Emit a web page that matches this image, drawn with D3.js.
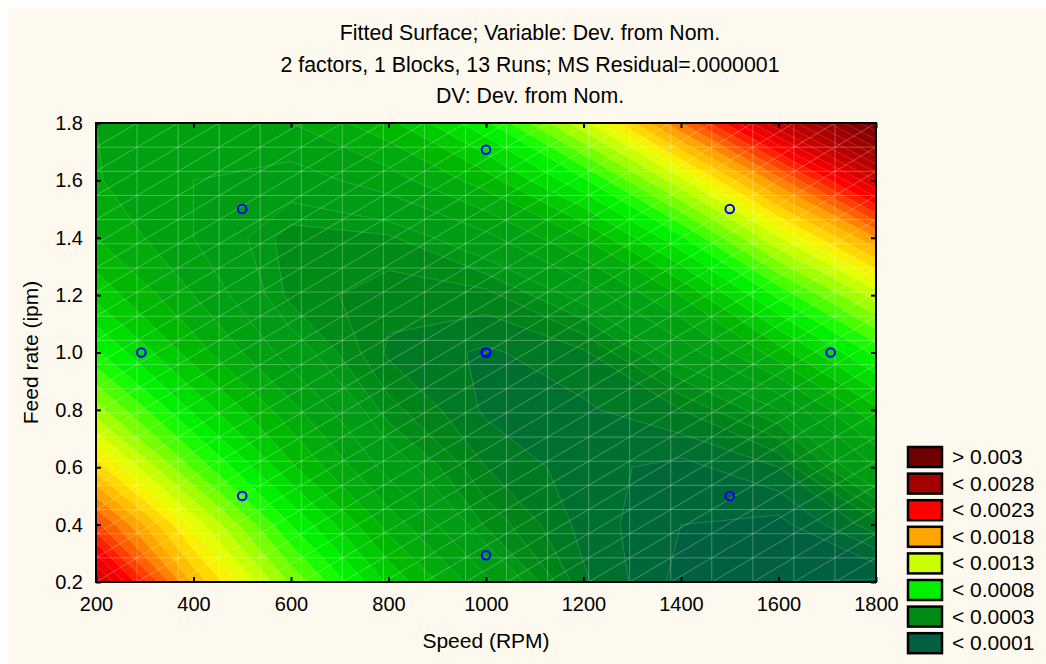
<!DOCTYPE html>
<html>
<head>
<meta charset="utf-8">
<script src="https://cdn.jsdelivr.net/npm/d3@7"></script>
<style>
  body { margin: 0; background: #ffffff; }
  text { font-family: "Liberation Sans", Arial, sans-serif; fill: #000; }
</style>
</head>
<body>
<div id="chart"></div>
<script>
var svgWidth = 1046;
var svgHeight = 664;

var margin = { top: 123, left: 96 };
var width = 780;
var height = 459;

// titles
var titleLines = [
  "Fitted Surface; Variable: Dev. from Nom.",
  "2 factors, 1 Blocks, 13 Runs; MS Residual=.0000001",
  "DV: Dev. from Nom."
];
var xLabel = "Speed (RPM)";
var yLabel = "Feed rate (ipm)";

// tick values
var xTicks = [200, 400, 600, 800, 1000, 1200, 1400, 1600, 1800];
var yTicks = [0.2, 0.4, 0.6, 0.8, 1.0, 1.2, 1.4, 1.6, 1.8];

// fitted surface, one row per feed rate (top row first)
var gridSpeed = [200, 400, 600, 800, 1000, 1200, 1400, 1600, 1800];
var gridFeed = [1.8, 1.6, 1.4, 1.2, 1.0, 0.8, 0.6, 0.4, 0.2];
var devGrid = [
  [0.000300, 0.000260, 0.000300, 0.000470, 0.000780, 0.001270, 0.001900, 0.002580, 0.003200], // 1.8
  [0.000308, 0.000200, 0.000150, 0.000250, 0.000450, 0.000780, 0.001270, 0.001860, 0.002500], // 1.6
  [0.000399, 0.000200, 0.000020, 0.000040, 0.000170, 0.000400, 0.000780, 0.001290, 0.001800], // 1.4
  [0.000568, 0.000300, 0.000030, -0.000030, -0.000020, 0.000130, 0.000405, 0.000825, 0.001250], // 1.2
  [0.000816, 0.000450, 0.000150, -0.000060, -0.000110, -0.000060, 0.000140, 0.000452, 0.000830], // 1.0
  [0.001142, 0.000680, 0.000330, 0.000020, -0.000110, -0.000110, -0.000050, 0.000100, 0.000480], // 0.8
  [0.001547, 0.000980, 0.000520, 0.000160, -0.000050, -0.000130, -0.000170, -0.000100, 0.000200], // 0.6
  [0.002032, 0.001360, 0.000800, 0.000360, 0.000040, -0.000120, -0.000200, -0.000220, -0.000070], // 0.4
  [0.002550, 0.001680, 0.001080, 0.000580, 0.000220, -0.000090, -0.000220, -0.000250, -0.000260]  // 0.2
];

// design runs (5 centre points)
var runSpeed = [1000, 1000, 1000, 1000, 1000, 500, 1500, 500, 1500, 293, 1707, 1000, 1000];
var runFeed = [1.0, 1.0, 1.0, 1.0, 1.0, 0.5, 0.5, 1.5, 1.5, 1.0, 1.0, 0.293, 1.707];

// legend
var legendLabels = ["> 0.003", "< 0.0028", "< 0.0023", "< 0.0018", "< 0.0013", "< 0.0008", "< 0.0003", "< 0.0001"];
var legendColors = ["#700000", "#a50000", "#ff0000", "#ffa500", "#ccff00", "#00f000", "#008c14", "#006040"];

// smooth colour ramp used for the sub-levels
var rampValues = [-0.00027, -0.000225, -0.000175, -0.000125, -0.000075, -0.00002, 0.00003, 0.00008, 0.0003, 0.00045,
  0.0006, 0.0008, 0.001, 0.0012, 0.0014, 0.00155, 0.00175, 0.00195, 0.00225, 0.0026, 0.0029, 0.0032];
var rampColors = ["#005a44", "#006040", "#006838", "#007030", "#007a22", "#008418", "#008c16", "#009814", "#00a410", "#00b800",
  "#00d400", "#00fa00", "#60ff00", "#b8ff00", "#f4ff00", "#ffd800", "#ffa500", "#ff6000", "#ff0000", "#c00000", "#980000", "#700000"];

var color = d3.scaleLinear().domain(rampValues).range(rampColors).clamp(true);

var levels = d3.range(-0.00025, 0.00009, 0.00005).concat(d3.range(0.0001, 0.00335, 0.0001));

var svg = d3.select("#chart")
  .append("svg")
  .attr("width", svgWidth)
  .attr("height", svgHeight);

svg.append("rect")
  .attr("x", 8)
  .attr("y", 8)
  .attr("width", svgWidth - 8)
  .attr("height", svgHeight - 8)
  .attr("fill", "#fef9ee");

svg.append("defs").append("clipPath")
  .attr("id", "plot-clip")
  .append("rect")
  .attr("width", width)
  .attr("height", height);

var chartGroup = svg.append("g")
  .attr("transform", `translate(${margin.left}, ${margin.top})`);

var x = d3.scaleLinear().domain([200, 1800]).range([0, width]);
var y = d3.scaleLinear().domain([0.2, 1.8]).range([height, 0]);

// contour bands
var plot = chartGroup.append("g").attr("clip-path", "url(#plot-clip)");

var values = [].concat.apply([], devGrid);
var stepX = gridSpeed[1] - gridSpeed[0];
var stepY = gridFeed[1] - gridFeed[0];

var toPlot = d3.geoTransform({
  point: function(gx, gy) {
    this.stream.point(x(gridSpeed[0] + (gx - 0.5) * stepX), y(gridFeed[0] + (gy - 0.5) * stepY));
  }
});
var path = d3.geoPath(toPlot);

var bands = d3.contours()
  .size([gridSpeed.length, gridFeed.length])
  .thresholds(levels)(values);

plot.append("rect")
  .attr("width", width)
  .attr("height", height)
  .attr("fill", color(d3.min(values)));

plot.selectAll("path.band")
  .data(bands)
  .enter()
  .append("path")
  .attr("class", "band")
  .attr("d", path)
  .attr("fill", function(d, i) {
    var hi = i + 1 < levels.length ? levels[i + 1] : d.value + 0.0001;
    return color((d.value + hi) / 2);
  })
  .attr("stroke", "rgba(255,255,255,0.22)")
  .attr("stroke-width", 0.7);

// light mesh over the surface
var meshN = 19;
var meshX = d3.range(meshN + 1).map(i => 200 + i * 1600 / meshN);
var meshY = d3.range(meshN + 1).map(i => 0.2 + i * 1.6 / meshN);
var mesh = plot.append("g")
  .attr("stroke", "rgba(255,255,255,0.28)")
  .attr("stroke-width", 1)
  .attr("fill", "none");

meshX.forEach(function(v) {
  mesh.append("line").attr("x1", x(v)).attr("x2", x(v)).attr("y1", 0).attr("y2", height);
});
meshY.forEach(function(v) {
  mesh.append("line").attr("x1", 0).attr("x2", width).attr("y1", y(v)).attr("y2", y(v));
});
d3.range(-meshN + 1, meshN).forEach(function(k) {
  var i0 = Math.max(0, k), j0 = Math.max(0, -k);
  var i1 = Math.min(meshN, meshN + k), j1 = Math.min(meshN, meshN - k);
  mesh.append("line")
    .attr("x1", x(meshX[i0])).attr("y1", y(meshY[j0]))
    .attr("x2", x(meshX[i1])).attr("y2", y(meshY[j1]));
});

// design points
plot.selectAll("circle")
  .data(runSpeed)
  .enter()
  .append("circle")
  .attr("cx", d => x(d))
  .attr("cy", (d, i) => y(runFeed[i]))
  .attr("r", 4.3)
  .attr("fill", "none")
  .attr("stroke", "#0000ff")
  .attr("stroke-width", 2);

// axes with inward ticks
var bottomAxis = d3.axisBottom(x).tickValues(xTicks).tickSizeInner(-5).tickSizeOuter(0).tickPadding(15)
  .tickFormat(d3.format("d"));
var leftAxis = d3.axisLeft(y).tickValues(yTicks).tickSizeInner(-5).tickSizeOuter(0).tickPadding(13)
  .tickFormat(d3.format(".1f"));
var topAxis = d3.axisTop(x).tickValues(xTicks).tickSizeInner(-5).tickSizeOuter(0).tickFormat("");
var rightAxis = d3.axisRight(y).tickValues(yTicks).tickSizeInner(-5).tickSizeOuter(0).tickFormat("");

function styleAxis(g) {
  g.select(".domain").remove();
  g.selectAll("line").attr("stroke", "#000").attr("stroke-width", 2);
  g.selectAll("text").attr("font-size", "20px").attr("fill", "#000");
}

chartGroup.append("g").attr("transform", `translate(0, ${height})`).call(bottomAxis).call(styleAxis);
chartGroup.append("g").call(leftAxis).call(styleAxis);
chartGroup.append("g").call(topAxis).call(styleAxis);
chartGroup.append("g").attr("transform", `translate(${width}, 0)`).call(rightAxis).call(styleAxis);

chartGroup.append("rect")
  .attr("width", width)
  .attr("height", height)
  .attr("fill", "none")
  .attr("stroke", "#000")
  .attr("stroke-width", 2);

// axis titles
chartGroup.append("text")
  .attr("x", width / 2)
  .attr("y", height + 66)
  .attr("text-anchor", "middle")
  .attr("font-size", "21px")
  .text(xLabel);

svg.append("text")
  .attr("transform", `translate(38, ${margin.top + height / 2}) rotate(-90)`)
  .attr("text-anchor", "middle")
  .attr("font-size", "21px")
  .text(yLabel);

// title
svg.selectAll("text.title")
  .data(titleLines)
  .enter()
  .append("text")
  .attr("class", "title")
  .attr("x", 530)
  .attr("y", (d, i) => 40 + i * 31.5)
  .attr("text-anchor", "middle")
  .attr("font-size", "21.3px")
  .text(d => d);

// legend
var legend = svg.append("g").attr("transform", "translate(908, 447)");
var item = legend.selectAll("g")
  .data(legendLabels)
  .enter()
  .append("g")
  .attr("transform", (d, i) => `translate(0, ${i * 26.6})`);

item.append("rect")
  .attr("width", 34)
  .attr("height", 20)
  .attr("fill", (d, i) => legendColors[i])
  .attr("stroke", "#000")
  .attr("stroke-width", 2.5);

item.append("text")
  .attr("x", 44)
  .attr("y", 17)
  .attr("font-size", "21px")
  .text(d => d);
</script>
</body>
</html>
